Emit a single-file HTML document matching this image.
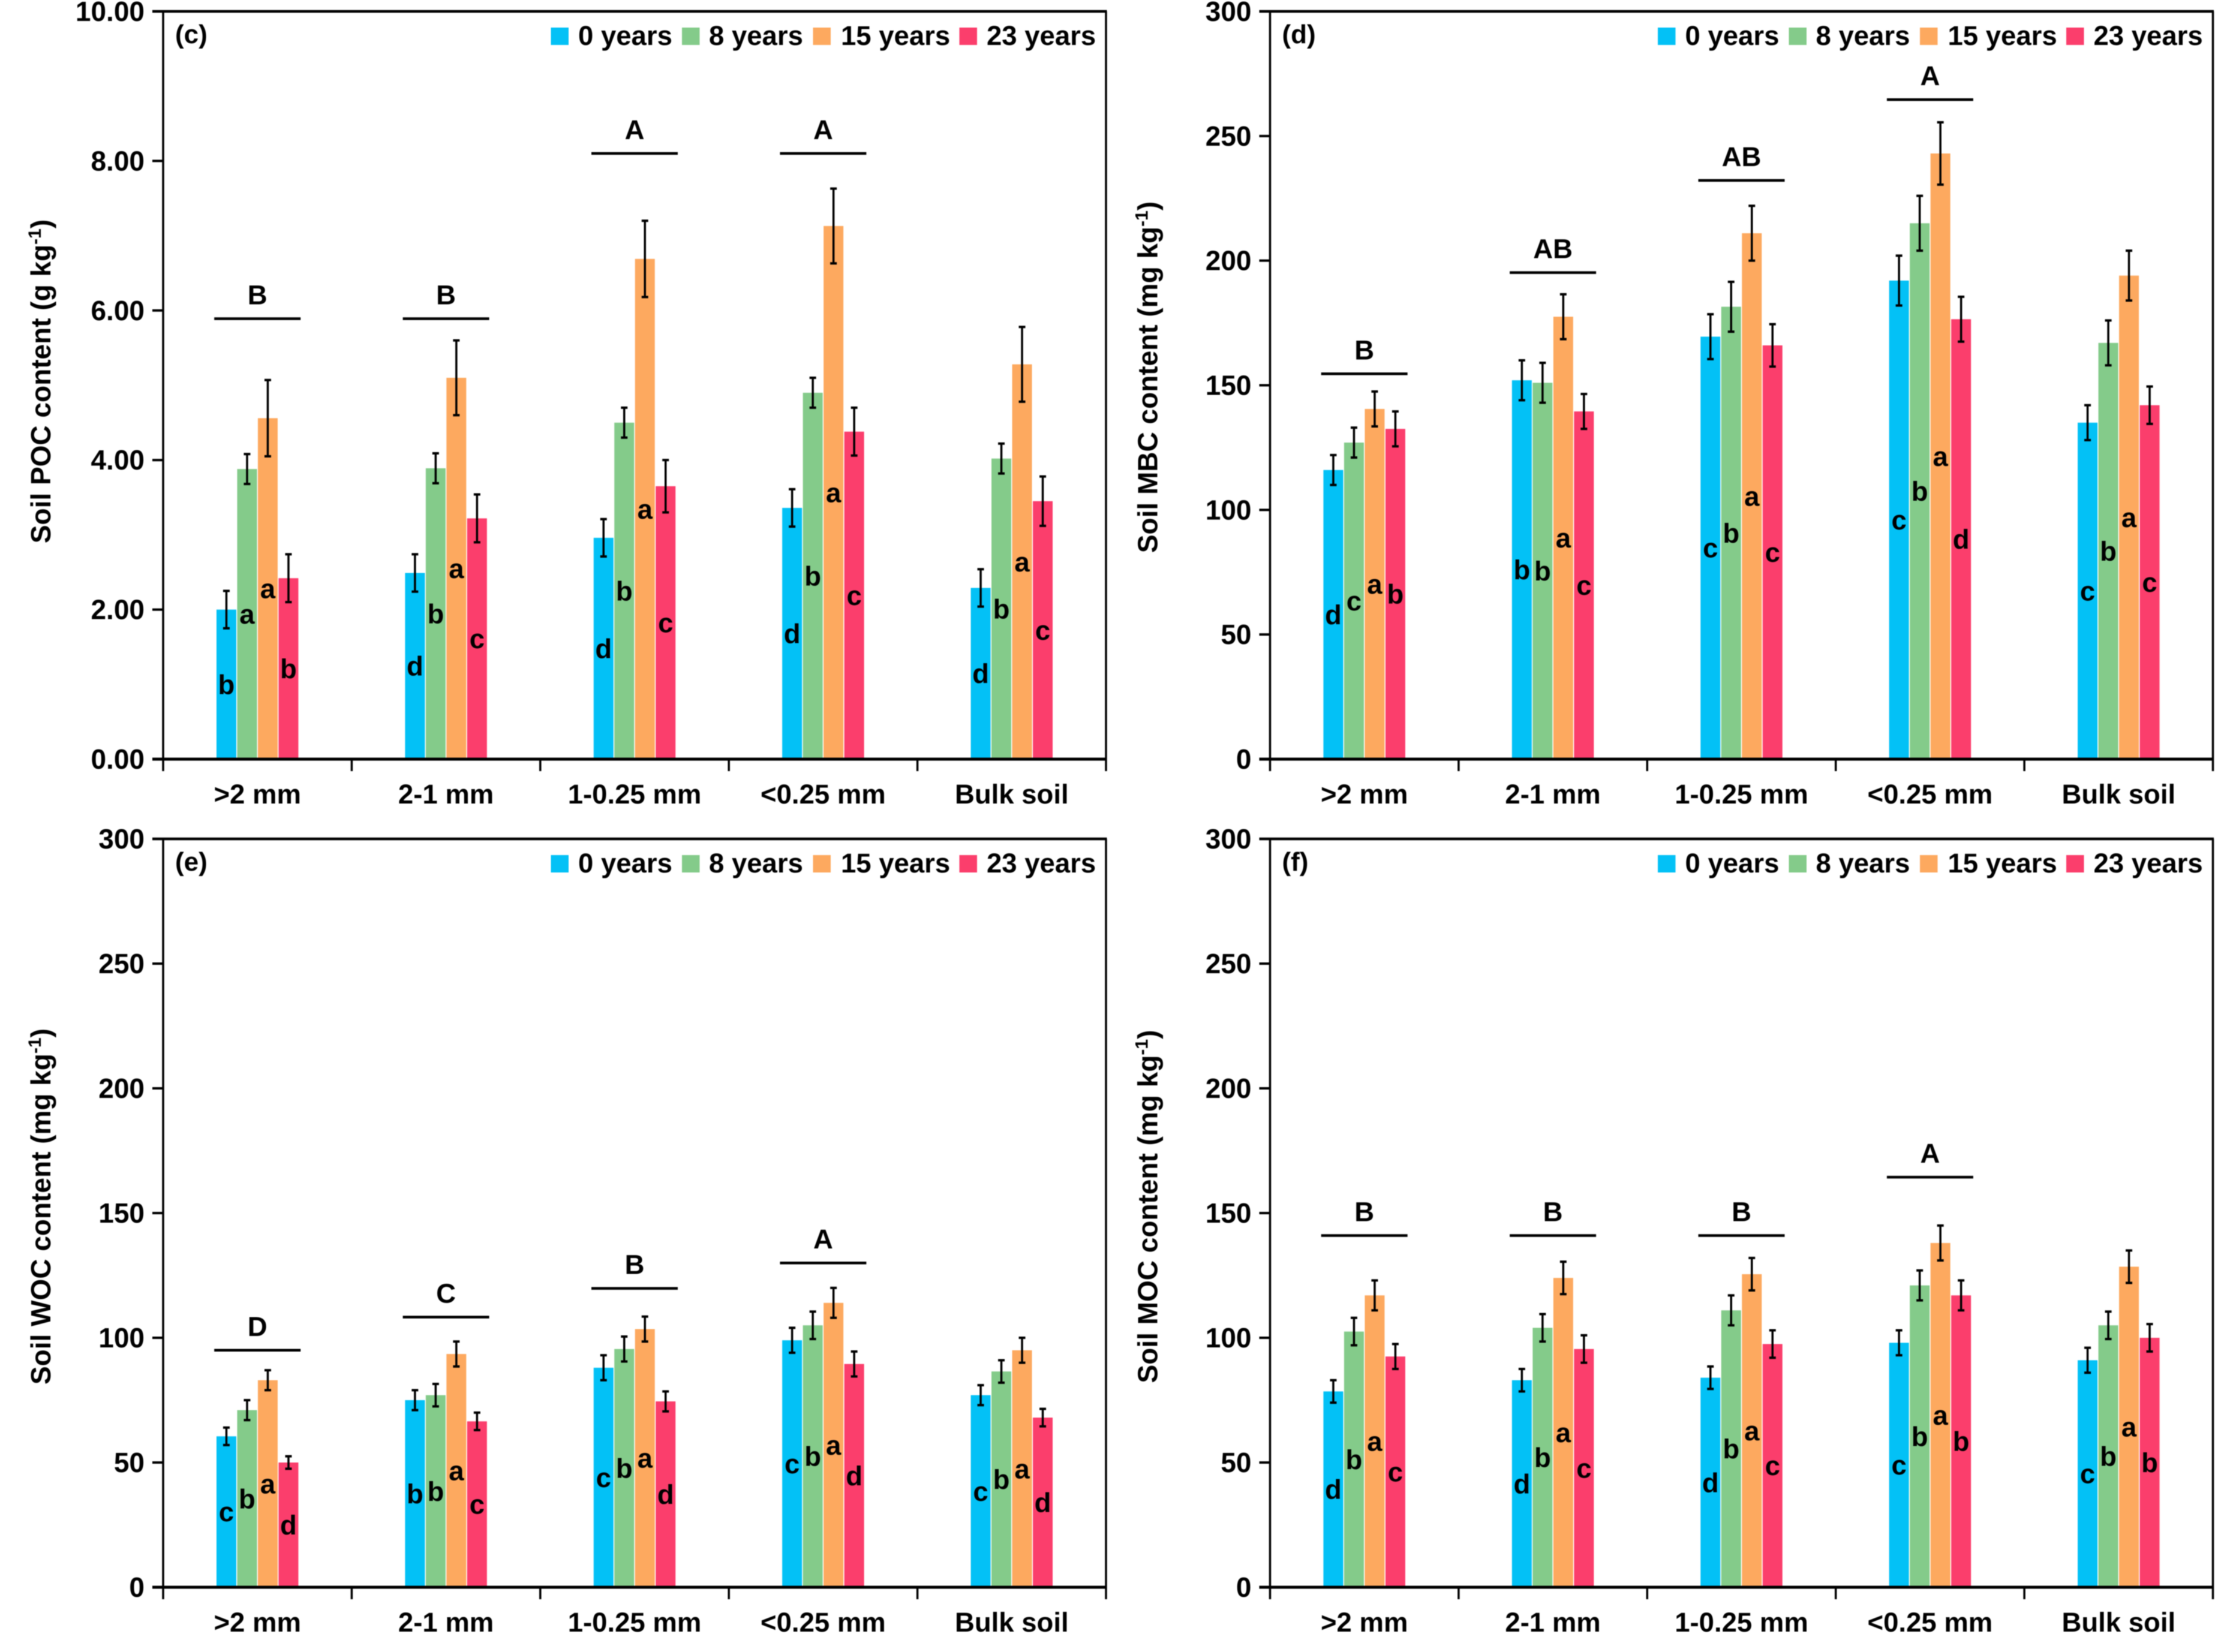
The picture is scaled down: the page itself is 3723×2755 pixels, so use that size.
<!DOCTYPE html>
<html lang="en">
<head>
<meta charset="utf-8">
<title>Soil carbon fractions by aggregate size and years</title>
<style>
html,body{margin:0;padding:0;background:#fff;}
svg{display:block;font-family:"Liberation Sans",Arial,sans-serif;font-weight:bold;fill:#000;filter:blur(0.7px);}
</style>
</head>
<body>
<svg id="chart" xmlns="http://www.w3.org/2000/svg" width="3723" height="2755" viewBox="0 0 3723 2755">
<rect x="0" y="0" width="3723" height="2755" fill="#ffffff"></rect>
</svg>
<script>
// Shared categories and series
const categories = [">2 mm", "2-1 mm", "1-0.25 mm", "<0.25 mm", "Bulk soil"];
const seriesNames = ["0 years", "8 years", "15 years", "23 years"];
const seriesColors = ["#03c1f6", "#84cb8a", "#fda95f", "#fb3e6c"];

// Panel (c) Soil POC
const pocTicks = ["0.00", "2.00", "4.00", "6.00", "8.00", "10.00"];
const pocYear0 = [2.00, 2.49, 2.96, 3.36, 2.29];
const pocYear8 = [3.88, 3.89, 4.50, 4.90, 4.02];
const pocYear15 = [4.56, 5.10, 6.69, 7.13, 5.28];
const pocYear23 = [2.42, 3.22, 3.65, 4.38, 3.45];
const pocErr0 = [0.25, 0.25, 0.25, 0.25, 0.25];
const pocErr8 = [0.20, 0.20, 0.20, 0.20, 0.20];
const pocErr15 = [0.51, 0.50, 0.51, 0.50, 0.50];
const pocErr23 = [0.32, 0.32, 0.35, 0.32, 0.33];
const pocLetters = [["b","a","a","b"],["d","b","a","c"],["d","b","a","c"],["d","b","a","c"],["d","b","a","c"]];
const pocGroupLabels = ["B", "B", "A", "A", ""];
const pocGroupLevels = [5.89, 5.89, 8.10, 8.10, null];

// Panel (d) Soil MBC
const mbcTicks = ["0", "50", "100", "150", "200", "250", "300"];
const mbcYear0 = [116, 152, 169.5, 192, 135];
const mbcYear8 = [127, 151, 181.5, 215, 167];
const mbcYear15 = [140.5, 177.5, 211, 243, 194];
const mbcYear23 = [132.5, 139.5, 166, 176.5, 142];
const mbcErr0 = [6, 8, 9, 10, 7];
const mbcErr8 = [6, 8, 10, 11, 9];
const mbcErr15 = [7, 9, 11, 12.5, 10];
const mbcErr23 = [7, 7, 8.5, 9, 7.5];
const mbcLetters = [["d","c","a","b"],["b","b","a","c"],["c","b","a","c"],["c","b","a","d"],["c","b","a","c"]];
const mbcGroupLabels = ["B", "AB", "AB", "A", ""];
const mbcGroupLevels = [154.6, 195.2, 232.2, 264.6, null];

// Panel (e) Soil WOC
const wocTicks = ["0", "50", "100", "150", "200", "250", "300"];
const wocYear0 = [60.5, 75, 88, 99, 77];
const wocYear8 = [71, 77, 95.5, 105, 86.5];
const wocYear15 = [83, 93.5, 103.5, 114, 95];
const wocYear23 = [50, 66.5, 74.5, 89.5, 68];
const wocErr0 = [3.5, 4, 5, 5, 4];
const wocErr8 = [4, 4.5, 5, 5.5, 4.5];
const wocErr15 = [4, 5, 5, 6, 5];
const wocErr23 = [2.5, 3.5, 4, 5, 3.5];
const wocLetters = [["c","b","a","d"],["b","b","a","c"],["c","b","a","d"],["c","b","a","d"],["c","b","a","d"]];
const wocGroupLabels = ["D", "C", "B", "A", ""];
const wocGroupLevels = [95, 108.3, 119.8, 130, null];

// Panel (f) Soil MOC
const mocTicks = ["0", "50", "100", "150", "200", "250", "300"];
const mocYear0 = [78.5, 83, 84, 98, 91];
const mocYear8 = [102.5, 104, 111, 121, 105];
const mocYear15 = [117, 124, 125.5, 138, 128.5];
const mocYear23 = [92.5, 95.5, 97.5, 117, 100];
const mocErr0 = [4.5, 4.5, 4.5, 5, 5];
const mocErr8 = [5.5, 5.5, 6, 6, 5.5];
const mocErr15 = [6, 6.5, 6.5, 7, 6.5];
const mocErr23 = [5, 5.5, 5.5, 6, 5.5];
const mocLetters = [["d","b","a","c"],["d","b","a","c"],["d","b","a","c"],["c","b","a","b"],["c","b","a","b"]];
const mocGroupLabels = ["B", "B", "B", "A", ""];
const mocGroupLevels = [141, 141, 141, 164.4, null];

const svg = document.getElementById('chart');
const NS = 'http://www.w3.org/2000/svg';
const FONT = 45.5;

function make(parent, tag, name) {
  const el = document.createElementNS(NS, tag);
  
  
  parent.appendChild(el);
  return el;
}
function setAll(el, attrs) {
  for (const k in attrs) el.setAttribute(k, attrs[k]);
  return el;
}
function slug(s) {
  return s.toLowerCase().replace(/>/g, 'over-').replace(/</g, 'under-').replace(/[^a-z0-9]+/g, '-');
}
function line(parent, name, x1, y1, x2, y2, w) {
  return setAll(make(parent, 'line', name), {x1: x1, y1: y1, x2: x2, y2: y2, stroke: '#000', 'stroke-width': w});
}
function label(parent, name, str, x, y, anchor, size) {
  const t = setAll(make(parent, 'text', name), {x: x, y: y, 'text-anchor': anchor || 'start', 'font-size': size || FONT});
  t.textContent = str;
  return t;
}

function drawPanel(p) {
  const catW = p.w / categories.length;
  const barPitch = 34.5;
  const barW = 33;
  const xScale = function (g) { return p.x + (g + 0.5) * catW; };
  const barX = function (g, s) { return xScale(g) + (s - 2) * barPitch + (barPitch - barW) / 2; };
  const yScale = function (v) { return p.y + p.h - (v / p.max) * p.h; };
  const root = make(svg, 'g', 'panel-' + p.id);

  // bars, letters, error bars
  const marks = make(root, 'g', 'bars-' + p.id);
  categories.forEach(function (cat, g) {
    const cslug = slug(cat);
    p.values.forEach(function (vals, s) {
      const sslug = slug(seriesNames[s]);
      const v = vals[g];
      const top = yScale(v);
      const bar = make(marks, 'rect', 'bar-' + cslug + '-' + sslug);
      setAll(bar, {x: barX(g, s), y: top, width: barW, height: yScale(0) - top, fill: seriesColors[s]});
    });
    p.values.forEach(function (vals, s) {
      const sslug = slug(seriesNames[s]);
      const v = vals[g];
      const e = p.errors[s][g];
      const cx = barX(g, s) + barW / 2;
      line(marks, 'error-bar-' + cslug + '-' + sslug, cx, yScale(v + e), cx, yScale(v - e), 3.5);
      line(marks, 'error-cap-top-' + cslug + '-' + sslug, cx - 5.5, yScale(v + e), cx + 5.5, yScale(v + e), 4);
      line(marks, 'error-cap-bottom-' + cslug + '-' + sslug, cx - 5.5, yScale(v - e), cx + 5.5, yScale(v - e), 4);
      label(marks, 'significance-letter-' + cslug + '-' + sslug, p.letters[g][s], cx, yScale(v / 2) + 16, 'middle');
    });
    if (p.groupLevels[g] !== null) {
      const ly = yScale(p.groupLevels[g]);
      line(marks, 'group-line-' + cslug, xScale(g) - 72, ly, xScale(g) + 72, ly, 4.5);
      label(marks, 'group-letter-' + cslug, p.groupLabels[g], xScale(g), ly - 24, 'middle');
    }
  });

  // frame
  const base = p.y + p.h;
  const frame = make(root, 'g', 'axes-' + p.id);
  line(frame, 'top-border', p.x - 18, p.y, p.x + p.w + 1.5, p.y, 4.5);
  line(frame, 'y-axis-line', p.x, p.y, p.x, base + 20, 3.5);
  line(frame, 'right-border', p.x + p.w, p.y, p.x + p.w, base + 20, 3.5);
  line(frame, 'x-axis-line', p.x - 18, base, p.x + p.w + 1.5, base, 5);

  // y ticks
  p.ticks.forEach(function (tick, i) {
    const v = Number(tick);
    if (i > 0 && i < p.ticks.length - 1) {
      line(frame, 'y-tick-' + tick, p.x - 18, yScale(v), p.x, yScale(v), 4);
    }
    label(frame, 'y-tick-label-' + tick, tick, p.x - 31, yScale(v) + 16, 'end', 46);
  });

  // x ticks and labels
  for (let i = 1; i < categories.length; i++) {
    line(frame, 'x-tick-' + i, p.x + i * catW, base, p.x + i * catW, base + 20, 3.5);
  }
  categories.forEach(function (cat, g) {
    label(frame, 'x-tick-label-' + slug(cat), cat, xScale(g), base + 74, 'middle');
  });

  // y axis title
  const title = make(root, 'text', 'y-axis-title-' + p.id);
  setAll(title, {transform: 'translate(' + (p.x - 188) + ',' + p.titleY + ') rotate(-90)', 'text-anchor': 'middle', 'font-size': 46});
  const t1 = make(title, 'tspan', 'y-axis-title-text');
  t1.textContent = p.title;
  const t2 = make(title, 'tspan', 'y-axis-title-exponent');
  setAll(t2, {'font-size': 30, dy: -16});
  t2.textContent = '-1';
  const t3 = make(title, 'tspan', 'y-axis-title-close');
  setAll(t3, {dy: 16});
  t3.textContent = ')';

  // panel letter
  label(root, 'panel-label-' + p.id, p.tag, p.x + 20, p.y + 53, 'start', 44);

  // legend
  const legend = make(root, 'g', 'legend-' + p.id);
  const swatchOffsets = [646.5, 865, 1083.5, 1327.5];
  const textOffsets = [692, 910, 1130, 1373];
  seriesNames.forEach(function (name, s) {
    const entry = make(legend, 'g', 'legend-entry-' + slug(name));
    const sw = make(entry, 'rect', 'legend-swatch-' + slug(name));
    setAll(sw, {x: p.x + swatchOffsets[s], y: p.y + 27, width: 29.5, height: 29, fill: seriesColors[s]});
    label(entry, 'legend-label-' + slug(name), name, p.x + textOffsets[s], p.y + 56, 'start', 45.5);
  });
}

const panelW = 1572;
drawPanel({id: 'c', tag: '(c)', x: 272, y: 19, w: panelW, h: 1247, max: 10, ticks: pocTicks,
  values: [pocYear0, pocYear8, pocYear15, pocYear23], errors: [pocErr0, pocErr8, pocErr15, pocErr23],
  letters: pocLetters, groupLabels: pocGroupLabels, groupLevels: pocGroupLevels,
  title: 'Soil POC content (g kg', titleY: 636});
drawPanel({id: 'd', tag: '(d)', x: 2117.5, y: 19, w: panelW, h: 1247, max: 300, ticks: mbcTicks,
  values: [mbcYear0, mbcYear8, mbcYear15, mbcYear23], errors: [mbcErr0, mbcErr8, mbcErr15, mbcErr23],
  letters: mbcLetters, groupLabels: mbcGroupLabels, groupLevels: mbcGroupLevels,
  title: 'Soil MBC content (mg kg', titleY: 629});
drawPanel({id: 'e', tag: '(e)', x: 272, y: 1399, w: panelW, h: 1248, max: 300, ticks: wocTicks,
  values: [wocYear0, wocYear8, wocYear15, wocYear23], errors: [wocErr0, wocErr8, wocErr15, wocErr23],
  letters: wocLetters, groupLabels: wocGroupLabels, groupLevels: wocGroupLevels,
  title: 'Soil WOC content (mg kg', titleY: 2012});
drawPanel({id: 'f', tag: '(f)', x: 2117.5, y: 1399, w: panelW, h: 1248, max: 300, ticks: mocTicks,
  values: [mocYear0, mocYear8, mocYear15, mocYear23], errors: [mocErr0, mocErr8, mocErr15, mocErr23],
  letters: mocLetters, groupLabels: mocGroupLabels, groupLevels: mocGroupLevels,
  title: 'Soil MOC content (mg kg', titleY: 2012});
</script>
</body>
</html>
